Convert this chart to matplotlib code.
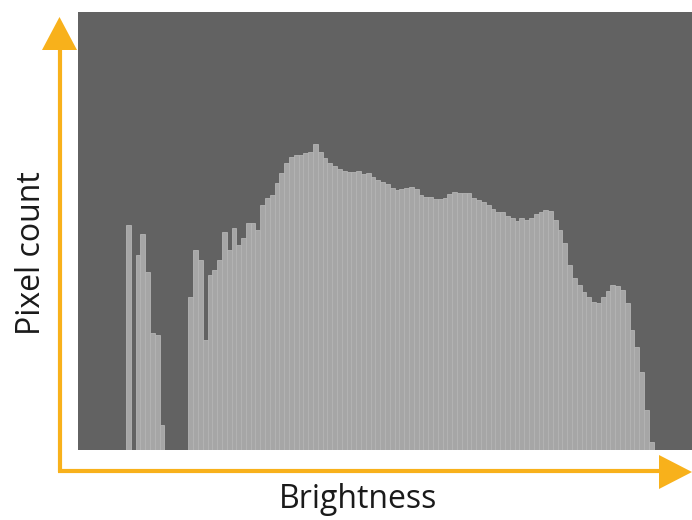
import numpy as np
import matplotlib.pyplot as plt
from matplotlib.patches import Polygon

# histogram counts per brightness bin (128 bins of width 2)
first_bin = 10
counts = [225, 0, 195, 216, 178, 117, 115, 25, 0, 0,
          0, 0, 0, 153, 200, 190, 110, 175, 180, 190,
          218, 200, 222, 205, 212, 227, 227, 220, 245, 252,
          255, 267, 277, 287, 293, 295, 295, 297, 298, 306,
          298, 292, 287, 284, 281, 279, 278, 278, 279, 276,
          277, 273, 270, 268, 266, 262, 260, 261, 262, 263,
          261, 255, 253, 253, 251, 251, 252, 256, 258, 257,
          257, 257, 252, 250, 248, 245, 241, 238, 238, 234,
          232, 229, 232, 230, 232, 236, 238, 240, 239, 230,
          220, 207, 185, 172, 165, 158, 153, 148, 147, 153,
          159, 165, 164, 160, 147, 120, 103, 78, 40, 8]
n_bins = 128
x_label = "Brightness"
y_label = "Pixel count"

orange = '#F8B11B'
panel = '#626262'

bins = np.arange(first_bin, first_bin + len(counts))

W, H = 692, 520
fig = plt.figure(figsize=(W / 100, H / 100), dpi=100)

ax = fig.add_axes([78 / W, (H - 450) / H, 614 / W, 438 / H])
ax.set_facecolor(panel)
ax.bar(bins, counts, width=1.0, align='edge', color='#a6a6a6',
       edgecolor='#b4b4b4', linewidth=0.6)
ax.set_xlim(0, n_bins)
ax.set_ylim(0, 438)
ax.set_xticks([])
ax.set_yticks([])
for s in ax.spines.values():
    s.set_visible(False)

# overlay for the arrow axes, in pixel units
ov = fig.add_axes([0, 0, 1, 1], zorder=5)
ov.set_xlim(0, W)
ov.set_ylim(H, 0)
ov.axis('off')
ov.plot([59.5, 59.5], [472, 48], color=orange, lw=3, solid_capstyle='butt')
ov.plot([58, 662], [471, 471], color=orange, lw=3, solid_capstyle='butt')
ov.add_patch(Polygon([[42, 50], [77, 50], [59.5, 17]], closed=True,
                     color=orange, lw=0))
ov.add_patch(Polygon([[659, 455], [659, 489], [692, 472]], closed=True,
                     color=orange, lw=0))

ov.text(358, 499, x_label, ha='center', va='center', fontsize=23,
        family='Open Sans', color='#1a1a1a')
ov.text(32, 253, y_label, ha='center', va='center', fontsize=23,
        family='Open Sans', color='#1a1a1a', rotation=90)

fig.savefig('out.png', dpi=100)
